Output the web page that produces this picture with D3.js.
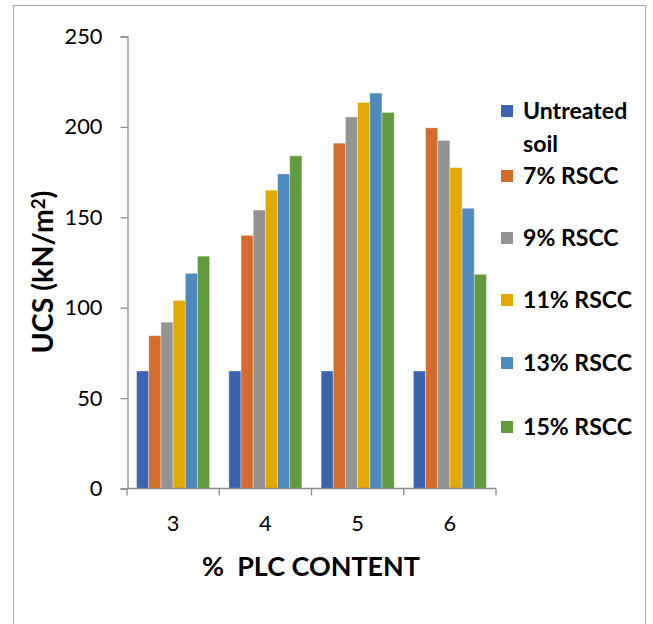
<!DOCTYPE html>
<html>
<head>
<meta charset="utf-8">
<script src="https://cdn.jsdelivr.net/npm/d3@7"></script>
<style>
  html, body { margin: 0; padding: 0; background: #fff; }
  svg { display: block; }
  text { font-family: Lato, "Open Sans", sans-serif; fill: #000; }
</style>
</head>
<body>
<svg id="chart" width="653" height="624"></svg>
<script>
// ---- data ----
const categories = ["3", "4", "5", "6"];
const seriesNames = ["Untreated soil", "7% RSCC", "9% RSCC", "11% RSCC", "13% RSCC", "15% RSCC"];
const untreated = [65, 65, 65, 65];
const rscc7 = [84.5, 140, 191, 199.5];
const rscc9 = [92, 154, 205.5, 192.5];
const rscc11 = [104, 165, 213.5, 177.5];
const rscc13 = [119, 174, 218.7, 155];
const rscc15 = [128.5, 184, 208, 118.5];
const yTicks = [0, 50, 100, 150, 200, 250];
const colors = ["#3C64AE", "#D46D2B", "#939393", "#E2A900", "#4F8ABF", "#629A40"];

const seriesValues = [untreated, rscc7, rscc9, rscc11, rscc13, rscc15];

const svg = d3.select("#chart");

// outer border
svg.append("rect").attr("x", 13.5).attr("y", 5.5).attr("width", 632).attr("height", 640)
  .attr("fill", "none").attr("stroke", "#A6A6A6").attr("stroke-width", 1);

const x0 = d3.scaleBand().domain(categories).range([127, 496]).padding(0);
const x1 = d3.scaleBand().domain(d3.range(seriesNames.length)).range([9.6, x0.bandwidth() - 9.6]).padding(0);
const y = d3.scaleLinear().domain([0, 250]).range([488.5, 36.5]);

const axisColor = "#8C8C8C";

function fit(sel, target) {
  const w = sel.node().getComputedTextLength();
  const fs = parseFloat(sel.attr("font-size"));
  sel.attr("font-size", fs * target / w);
  return fs * target / w;
}

// bars
const g = svg.append("g");
categories.forEach((c, ci) => {
  seriesValues.forEach((vals, si) => {
    g.append("rect")
      .attr("x", x0(c) + x1(si))
      .attr("y", y(vals[ci]))
      .attr("width", x1.bandwidth())
      .attr("height", y(0) - y(vals[ci]))
      .attr("fill", colors[si])
      .attr("stroke", "rgba(255,255,255,0.45)")
      .attr("stroke-width", 0.8);
  });
});

// tick font size fitted so "250" is ~38px wide
const tprobe = svg.append("text").attr("font-size", 20).text("250");
const tfs = fit(tprobe, 38);
tprobe.remove();

// y axis
const yAxis = svg.append("g").attr("transform", "translate(127.5,0)")
  .call(d3.axisLeft(y).tickValues(yTicks).tickSize(7).tickPadding(18).tickFormat(d3.format("d")));
yAxis.select(".domain").attr("stroke", axisColor).attr("stroke-width", 1.3);
yAxis.selectAll(".tick line").attr("stroke", axisColor).attr("stroke-width", 1.3);
yAxis.selectAll(".tick text").attr("font-size", tfs).attr("font-family", "Lato, sans-serif").attr("fill", "#000");

// x axis
const xAxisG = svg.append("g").attr("transform", "translate(0,488.5)");
xAxisG.append("line").attr("x1", 127).attr("x2", 496).attr("y1", 0).attr("y2", 0)
  .attr("stroke", axisColor).attr("stroke-width", 1.3);
const bounds = categories.map(c => x0(c)).concat([x0(categories[categories.length - 1]) + x0.bandwidth()]);
xAxisG.selectAll("line.tk").data(bounds).enter().append("line").attr("class", "tk")
  .attr("x1", d => d).attr("x2", d => d).attr("y1", 0).attr("y2", 7)
  .attr("stroke", axisColor).attr("stroke-width", 1.3);
xAxisG.selectAll("text.cat").data(categories).enter().append("text").attr("class", "cat")
  .attr("x", d => x0(d) + x0.bandwidth() / 2).attr("y", 42)
  .attr("text-anchor", "middle").attr("font-size", tfs).text(d => d);

// axis titles
const xt = svg.append("text").attr("x", 311).attr("y", 576).attr("text-anchor", "middle")
  .attr("font-size", 22).attr("font-weight", "bold").attr("xml:space", "preserve").text("%  PLC CONTENT");
fit(xt, 218);

const yt = svg.append("text").attr("transform", "translate(53,272) rotate(-90)")
  .attr("text-anchor", "middle").attr("font-size", 22).attr("font-weight", "bold");
yt.append("tspan").text("UCS (kN/m");
yt.append("tspan").attr("dy", -8).attr("font-size", "0.65em").text("2");
yt.append("tspan").attr("dy", 8).text(")");
fit(yt, 163);

// legend
const legendRows = [
  { lines: ["Untreated", "soil"], y: 111 },
  { lines: ["7% RSCC"], y: 176 },
  { lines: ["9% RSCC"], y: 238 },
  { lines: ["11% RSCC"], y: 300 },
  { lines: ["13% RSCC"], y: 363 },
  { lines: ["15% RSCC"], y: 427 }
];
const lg = svg.append("g");
const probe = lg.append("text").attr("font-size", 20).attr("font-weight", "bold").text("15% RSCC");
const lfs = fit(probe, 109);
probe.remove();
legendRows.forEach((r, i) => {
  lg.append("rect").attr("x", 501).attr("y", r.y - 6).attr("width", 12).attr("height", 12).attr("fill", colors[i]);
  r.lines.forEach((ln, li) => {
    lg.append("text").attr("x", 523).attr("y", r.y + li * 33).attr("dy", "0.35em")
      .attr("font-size", lfs).attr("font-weight", "bold").text(ln);
  });
});
</script>
</body>
</html>
